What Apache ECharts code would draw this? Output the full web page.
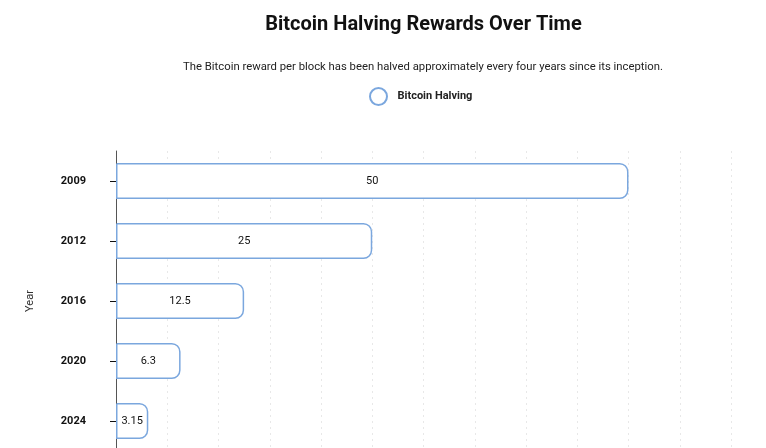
<!DOCTYPE html>
<html>
<head>
<meta charset="utf-8">
<script src="https://cdn.jsdelivr.net/npm/echarts@6/dist/echarts.min.js"></script>
<style>
  html, body { margin: 0; padding: 0; background: #fff; }
  #chart { width: 766px; height: 448px; }
</style>
</head>
<body>
<div id="chart"></div>
<script>
var years = ['2009', '2012', '2016', '2020', '2024'];
var rewards = [50, 25, 12.5, 6.3, 3.15];

var myChart = echarts.init(document.getElementById('chart'));
var option = {
    textStyle: { fontFamily: 'Roboto' },
    title: [{
        text: 'Bitcoin Halving Rewards Over Time',
        left: 418.5,
        textAlign: 'center',
        top: 10,
        textStyle: { fontSize: 20, fontWeight: 'bold', color: '#111' }
    }, {
        text: 'The Bitcoin reward per block has been halved approximately every four years since its inception.',
        left: 418,
        textAlign: 'center',
        top: 57,
        textStyle: { fontSize: 11.3, fontWeight: 'normal', color: '#222' }
    }],
    legend: {
        top: 82,
        left: 364,
        icon: 'circle',
        itemWidth: 28,
        itemHeight: 17,
        textStyle: { fontSize: 11, fontWeight: 'bold', color: '#222' },
        data: ['Bitcoin Halving']
    },
    grid: {
        left: 116,
        right: 35,
        top: 151,
        height: 300,
        outerBoundsMode: 'none',
        containLabel: false
    },
    xAxis: {
        type: 'value',
        min: 0,
        max: 60,
        interval: 5,
        axisLine: { show: false },
        axisTick: { show: false },
        splitLine: { show: true, lineStyle: { type: [2, 4], color: '#e8e8e8' } },
        axisLabel: { color: '#333' }
    },
    yAxis: {
        type: 'category',
        inverse: true,
        data: years,
        name: 'Year',
        nameLocation: 'middle',
        nameGap: 80,
        nameTextStyle: { fontSize: 11, color: '#333' },
        axisLine: { show: true, lineStyle: { color: '#555', width: 1 } },
        axisTick: { show: true, alignWithLabel: true, length: 6, lineStyle: { color: '#111' } },
        axisLabel: { fontSize: 11, fontWeight: 'bold', color: '#111', margin: 30 }
    },
    series: [{
        name: 'Bitcoin Halving',
        type: 'bar',
        data: rewards,
        barWidth: '60%',
        itemStyle: {
            color: '#fff',
            borderColor: '#7ba7de',
            borderWidth: 1.5,
            borderRadius: [0, 8, 8, 0]
        },
        label: {
            show: true,
            position: 'inside',
            color: '#111',
            fontSize: 11
        }
    }]
};
myChart.setOption(option);
</script>
</body>
</html>
